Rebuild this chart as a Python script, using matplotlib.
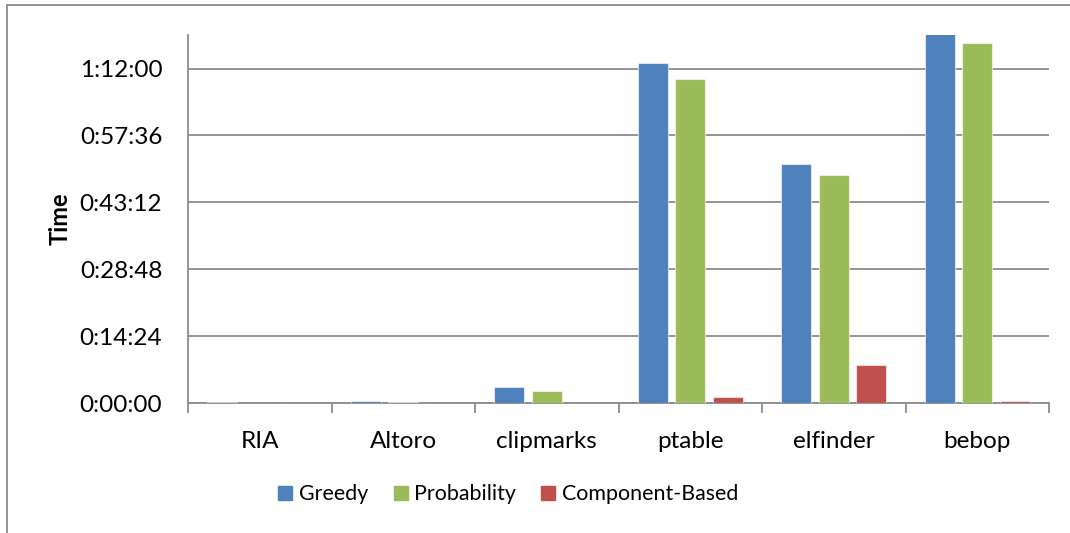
import numpy as np
import matplotlib.pyplot as plt
from matplotlib.ticker import FuncFormatter, MultipleLocator
from matplotlib.lines import Line2D

plt.rcParams['font.family'] = ['Lato', 'DejaVu Sans']

apps = ['RIA', 'Altoro', 'clipmarks', 'ptable', 'elfinder', 'bebop']
# run times in seconds
greedy = [17, 30, 210, 4392, 3086, 4800]
probability = [0, 17, 159, 4182, 2944, 4655]
component_based = [0, 0, 0, 77, 498, 24]

series = [('Greedy', greedy, '#4F81BD'),
          ('Probability', probability, '#9BBB59'),
          ('Component-Based', component_based, '#C0504D')]


def hms(sec, pos=None):
    sec = int(round(sec))
    return f"{sec // 3600}:{(sec % 3600) // 60:02d}:{sec % 60:02d}"


fig = plt.figure(figsize=(10.7, 5.33), dpi=100)
ax = fig.add_axes([0.1757, 0.2433, 0.8047, 0.691])

x = np.arange(len(apps))
width = 0.209
step = 0.26
for i, (name, vals, color) in enumerate(series):
    ax.bar(x + (i - 1) * step, vals, width, color=color, label=name,
           edgecolor=(1, 1, 1, 0.6), linewidth=0.8, zorder=3)

ax.set_xlim(-0.5, len(apps) - 0.5)
ax.set_ylim(0, 4752)
ax.yaxis.set_major_locator(MultipleLocator(864))
ax.yaxis.set_major_formatter(FuncFormatter(hms))
ax.grid(axis='y', color='#8c8c8c', linewidth=1.3, zorder=0)

ax.set_xticks(x)
ax.set_xticklabels(apps)
ax.set_xticks(np.arange(len(apps) + 1) - 0.5, minor=True)
ax.tick_params(axis='x', which='major', length=0, pad=20, labelsize=17.5)
ax.tick_params(axis='x', which='minor', length=7, width=1.3, color='#8c8c8c')
ax.tick_params(axis='y', length=0, pad=18.5, labelsize=17.5)

for side in ['top', 'right']:
    ax.spines[side].set_visible(False)
for side in ['left', 'bottom']:
    ax.spines[side].set_color('#8c8c8c')
    ax.spines[side].set_linewidth(1.3)

ax.set_ylabel('Time', fontsize=17, fontweight='bold', labelpad=6)

handles = [Line2D([], [], marker='s', linestyle='none', markersize=10,
                  markerfacecolor=c, markeredgecolor=c) for _, _, c in series]
fig.legend(handles, [s[0] for s in series], loc='center',
           bbox_to_anchor=(0.475, 0.073), ncol=3, frameon=False,
           fontsize=15.4, handlelength=0.7, handletextpad=0.3,
           columnspacing=1.15)

# outer chart frame
fig.add_artist(Line2D([7 / 1070, 7 / 1070], [0, 1 - 5 / 533],
                      transform=fig.transFigure, color='#8c8c8c', linewidth=1.3))
fig.add_artist(Line2D([7 / 1070, 1], [1 - 5 / 533, 1 - 5 / 533],
                      transform=fig.transFigure, color='#8c8c8c', linewidth=1.3))

fig.savefig('out.png', dpi=100)
